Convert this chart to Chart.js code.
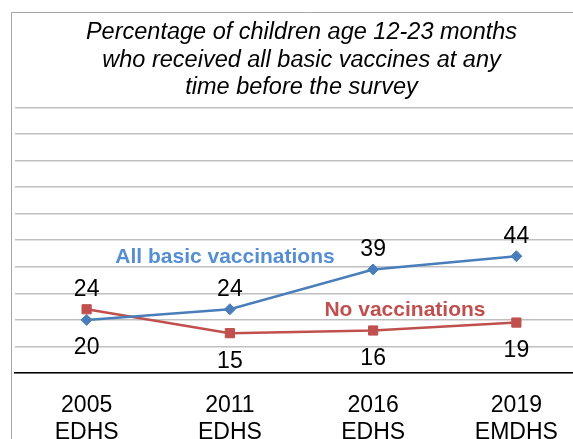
<!DOCTYPE html>
<html>
<head>
<meta charset="utf-8">
<script src="https://cdn.jsdelivr.net/npm/chart.js@4.4.1/dist/chart.umd.min.js"></script>
<style>
    html, body { margin: 0; background: #fff; overflow: hidden; }
    canvas { display: block; }
</style>
</head>
<body>
<canvas id="vaxChart" width="600" height="460"></canvas>
<script>
    // Survey rounds and vaccination coverage (%)
    const surveys = [['2005', 'EDHS'], ['2011', 'EDHS'], ['2016', 'EDHS'], ['2019', 'EMDHS']];
    const allBasic = [20, 24, 39, 44];
    const noVax = [24, 15, 16, 19];
    const titleLines = [
        'Percentage of children age 12-23 months',
        'who received all basic vaccines at any',
        'time before the survey'
    ];

    const BLUE = '#4a7ebb';
    const RED = '#c0504d';
    const FONT = "'Liberation Sans', Arial, sans-serif";

    // thin grey box around the whole chart (right/bottom sides fall off the page)
    const outerFrame = {
        id: 'outerFrame',
        beforeDraw(chart) {
            const ctx = chart.ctx;
            ctx.save();
            ctx.strokeStyle = '#a6a6a6';
            ctx.lineWidth = 1;
            ctx.beginPath();
            ctx.moveTo(11.5, chart.height);
            ctx.lineTo(11.5, 12.5);
            ctx.lineTo(chart.width, 12.5);
            ctx.stroke();
            ctx.restore();
        }
    };

    // value labels next to each point + the series captions
    const pointLabels = {
        id: 'pointLabels',
        afterDatasetsDraw(chart) {
            const ctx = chart.ctx;
            ctx.save();
            ctx.font = '23px ' + FONT;
            ctx.fillStyle = '#000';
            ctx.textAlign = 'center';
            ctx.textBaseline = 'middle';
            chart.data.datasets.forEach((ds, i) => {
                chart.getDatasetMeta(i).data.forEach((pt, j) => {
                    const dy = ds.labelSide[j] === 'above' ? -20 : 28;
                    ctx.fillText(ds.data[j], pt.x, pt.y + dy);
                });
            });

            const xs = chart.scales.x, ys = chart.scales.y;
            ctx.font = 'bold 21px ' + FONT;
            ctx.textAlign = 'left';
            ctx.fillStyle = '#558ed5';
            ctx.fillText('All basic vaccinations', xs.getPixelForValue(0.2), ys.getPixelForValue(43.8));
            ctx.fillStyle = RED;
            ctx.fillText('No vaccinations', xs.getPixelForValue(1.66), ys.getPixelForValue(23.8));
            ctx.restore();
        }
    };

    new Chart(document.getElementById('vaxChart').getContext('2d'), {
        type: 'line',
        data: {
            labels: surveys,
            datasets: [
                {
                    label: 'All basic vaccinations', data: allBasic,
                    borderColor: BLUE, backgroundColor: BLUE, borderWidth: 2.5,
                    pointStyle: 'rectRot', pointRadius: 5.5, pointBorderWidth: 1,
                    labelSide: ['below', 'above', 'above', 'above']
                },
                {
                    label: 'No vaccinations', data: noVax,
                    borderColor: RED, backgroundColor: RED, borderWidth: 2.5,
                    pointStyle: 'rect', pointRadius: 6.5, pointBorderWidth: 1,
                    labelSide: ['above', 'below', 'below', 'below']
                }
            ]
        },
        options: {
            responsive: false,
            animation: false,
            layout: { padding: { left: 15, right: 12, top: 0, bottom: 0 } },
            plugins: {
                legend: { display: false },
                tooltip: { enabled: false },
                title: {
                    display: true,
                    text: titleLines,
                    color: '#000',
                    font: { family: FONT, size: 23.5, style: 'italic', weight: 'normal', lineHeight: 1.17 },
                    padding: { top: 19, bottom: 6 }
                }
            },
            scales: {
                x: {
                    offset: true,
                    grid: { display: false, drawTicks: false },
                    border: { color: '#000', width: 1.5 },
                    ticks: { color: '#000', padding: 19, maxRotation: 0, font: { family: FONT, size: 23, lineHeight: 1.17 } },
                    afterFit: s => { s.height = 87; s.paddingLeft = 0; s.paddingRight = 0; }
                },
                y: {
                    min: 0, max: 100,
                    ticks: { display: false, stepSize: 10 },
                    grid: { color: '#bfbfbf', lineWidth: 1.5, drawTicks: false },
                    border: { display: false },
                    afterFit: s => { s.width = 0; }
                }
            }
        },
        plugins: [outerFrame, pointLabels]
    });
</script>
</body>
</html>
